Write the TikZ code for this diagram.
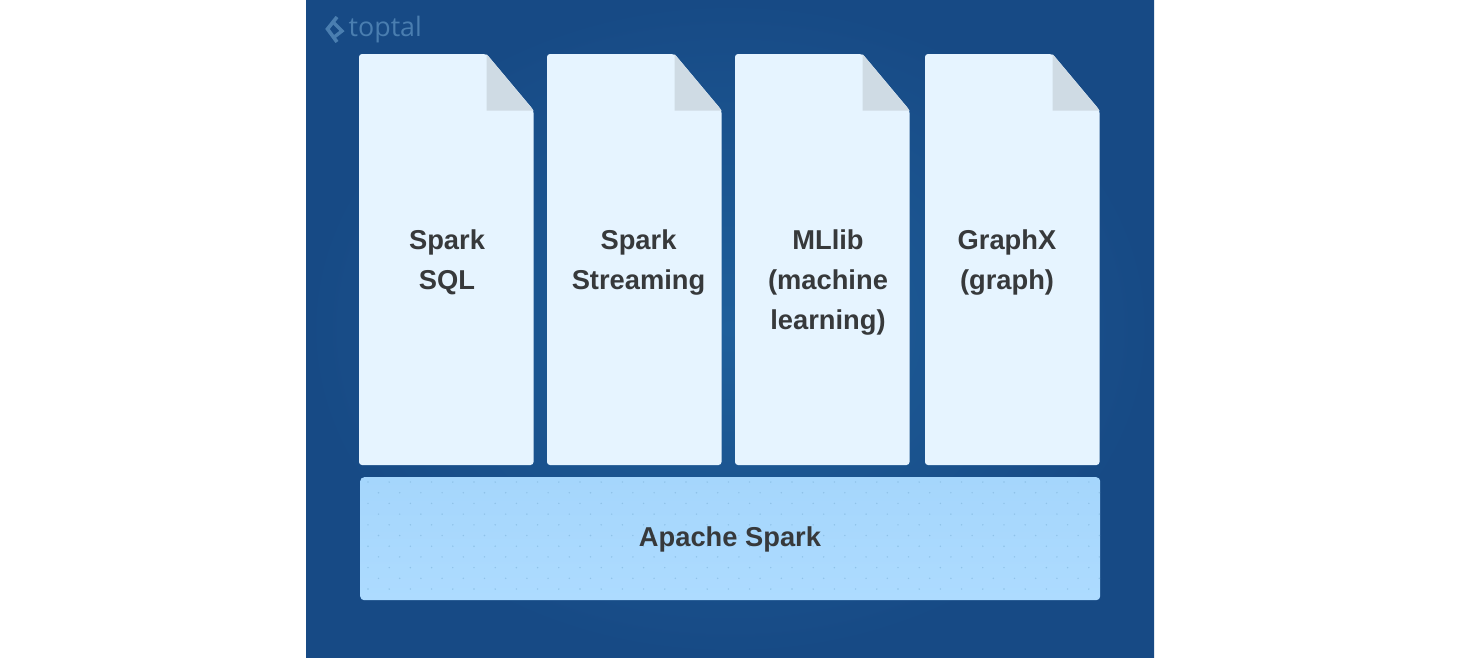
\documentclass[tikz,border=0pt]{standalone}
\usepackage{fontspec}
\setmainfont{Liberation Sans}
\newfontfamily\logofont{Open Sans}
\begin{document}
\begin{tikzpicture}[x=1pt,y=-1pt,
  lbl/.style={align=center,text=labeltext,font=\fontsize{27.3}{40}\selectfont\bfseries},
  barbox/.style={rounded corners=4pt,top color=barfill,bottom color=barfillb}]
\definecolor{pagefill}{HTML}{E6F4FF}
\definecolor{foldfill}{HTML}{CFDBE4}
\definecolor{labeltext}{HTML}{37393B}
\definecolor{barfill}{HTML}{A5D6FC}
\definecolor{barfillb}{HTML}{ADDBFF}
\definecolor{bgedge}{HTML}{174A85}
\definecolor{bgmid}{HTML}{1F5F9B}
\definecolor{dotc}{HTML}{8FC2E8}
\definecolor{logoc}{HTML}{4A7EB0}
\useasboundingbox (0,0) rectangle (1460,657);
\fill[white] (0,0) rectangle (1460,657);
\fill[inner color=bgmid,outer color=bgedge] (306,0) rectangle (1154,657);
% pages
\foreach \n/\x in {a/359,b/547,c/735,d/925}{
  \fill[pagefill,rounded corners=3pt] (\x,54) -- (\x+127.5,54) -- (\x+174.5,110) -- (\x+174.5,465) -- (\x,465) -- cycle;
  \fill[foldfill] (\x+127.5,54) -- (\x+174.5,110.5) -- (\x+127.5,110.5) -- cycle;
}
\node[barbox,minimum width=740pt,minimum height=123pt,inner sep=0pt,anchor=north west] (bar) at (360,477) {};
\foreach \r in {0,...,10}{
  \pgfmathsetmacro{\yy}{482+\r*10.7}
  \pgfmathsetmacro{\off}{mod(\r,2)*10.5}
  \foreach \c in {0,...,34}{
    \fill[dotc] ({368+\off+\c*21.2},\yy) circle (0.8);
  }
}
\node[lbl] (sql) at (447,262) {Spark\\SQL};
\node[lbl] (stream) at (638.5,262) {Spark\\Streaming};
\node[lbl] (ml) at (828,282) {MLlib\\(machine\\learning)};
\node[lbl] (gx) at (1007,262) {GraphX\\(graph)};
\node[lbl] (spark) at (730,539) {Apache Spark};
% logo
\draw[logoc,line width=3.6pt,line join=miter] (337,17) -- (327.5,29) -- (337,42);
\draw[logoc,line width=3.4pt,line join=miter] (333,22) -- (342,31) -- (333,38);
\node[text=logoc,font=\fontsize{26.8}{30}\selectfont\logofont,anchor=west,inner sep=0pt] (logo) at (348.5,30) {toptal};
\end{tikzpicture}
\end{document}
